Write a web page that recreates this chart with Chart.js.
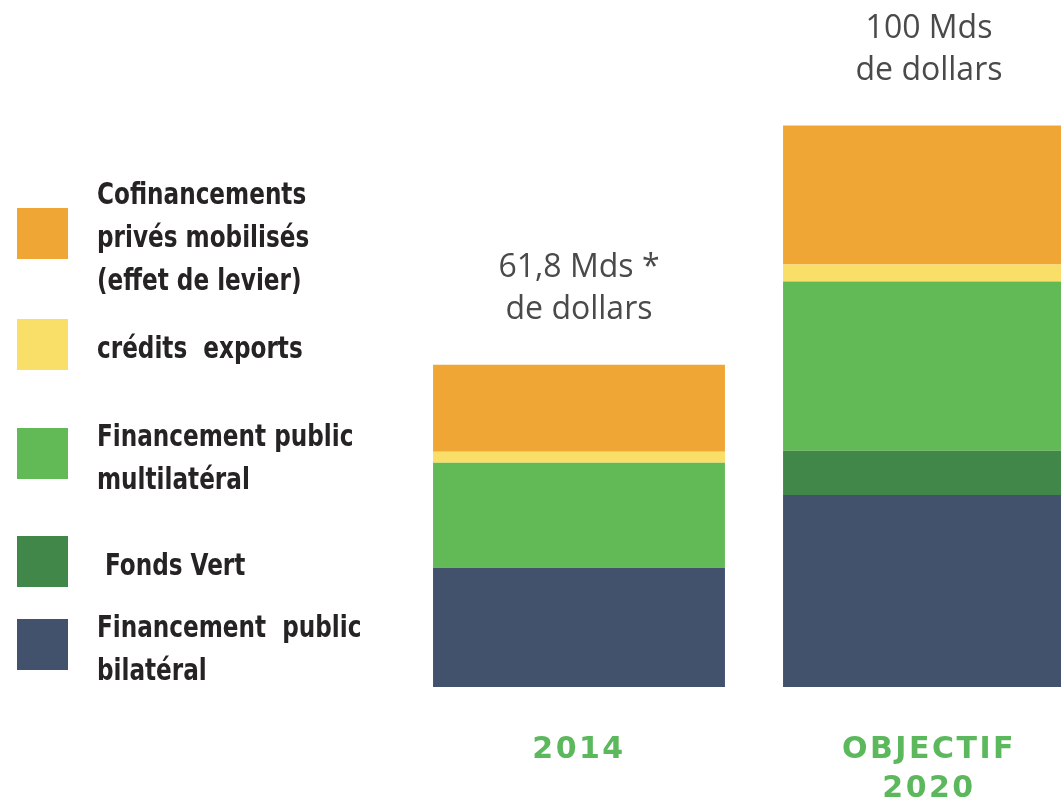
<!DOCTYPE html>
<html>
<head>
<meta charset="utf-8">
<script src="https://cdn.jsdelivr.net/npm/chart.js@4"></script>
<style>
  html, body { margin: 0; padding: 0; background: #fff; overflow: hidden; }
  canvas { display: block; }
</style>
</head>
<body>
<canvas id="financeChart" width="1110" height="808"></canvas>
<script>
// ---------------- data ----------------
const categories = ['2014', ['OBJECTIF', '2020']];

// stacked from bottom to top (Mds de dollars)
const bilateral = [22.9, 36.9];
const fondsVert = [0, 8.5];
const multilateral = [20.2, 32.5];
const creditsExports = [2.1, 3.3];
const cofinancements = [16.7, 26.7];

const seriesLabels = [
  ['Financement  public', 'bilatéral'],
  [' Fonds Vert'],
  ['Financement public', 'multilatéral'],
  ['crédits  exports'],
  ['Cofinancements', 'privés mobilisés', '(effet de levier)']
];
const seriesColors = ['#42516c', '#42874a', '#62ba57', '#f9df68', '#f0a635'];

const totalLabels = [['61,8 Mds *', 'de dollars'], ['100 Mds', 'de dollars']];

// ---------------- plugins ----------------
// ticks are drawn after the datasets (z: 1), letter spacing only for them
const tickSpacing = {
  id: 'tickSpacing',
  afterDatasetsDraw(chart) { chart.ctx.letterSpacing = '2.5px'; },
  afterDraw(chart) { chart.ctx.letterSpacing = '0px'; }
};

const totalsAndLegend = {
  id: 'totalsAndLegend',
  afterDraw(chart) {
    const ctx = chart.ctx;
    const x = chart.scales.x;
    const y = chart.scales.y;
    ctx.save();
    ctx.letterSpacing = '0px';

    // totals above each bar
    ctx.font = '32px "Open Sans", Lato, sans-serif';
    ctx.fillStyle = '#4a4a4a';
    ctx.textAlign = 'center';
    ctx.textBaseline = 'middle';
    totalLabels.forEach((lines, i) => {
      let total = 0;
      chart.data.datasets.forEach(ds => { total += ds.data[i]; });
      const top = y.getPixelForValue(total);
      const cx = x.getPixelForValue(i);
      ctx.fillText(lines[0], cx, top - 97);
      ctx.fillText(lines[1], cx, top - 55);
    });

    // legend on the left, top row is the last dataset
    const rowCenters = [233, 344, 453, 561, 644];
    const lineH = 43;
    const squeeze = 0.83; // condensed look
    ctx.textAlign = 'left';
    ctx.textBaseline = 'alphabetic';
    ctx.font = 'bold 31px "DejaVu Sans Condensed", "DejaVu Sans", sans-serif';
    const n = chart.data.datasets.length;
    for (let r = 0; r < n; r++) {
      const ds = chart.data.datasets[n - 1 - r];
      const c = rowCenters[r];
      ctx.fillStyle = ds.backgroundColor;
      ctx.fillRect(17, c - 25, 51, 51);
      ctx.fillStyle = '#262324';
      const lines = ds.legendLines;
      const first = c + 14 - (lines.length - 1) * lineH / 2;
      lines.forEach((t, k) => {
        ctx.save();
        ctx.translate(97, first + k * lineH);
        ctx.scale(squeeze, 1);
        ctx.fillText(t, 0, 0);
        ctx.restore();
      });
    }
    ctx.restore();
  }
};

// ---------------- chart ----------------
const seriesValues = [bilateral, fondsVert, multilateral, creditsExports, cofinancements];

const datasets = seriesValues.map((values, i) => ({
  label: seriesLabels[i].join(' ').trim(),
  legendLines: seriesLabels[i],
  data: values,
  backgroundColor: seriesColors[i],
  borderWidth: 0,
  barPercentage: 1,
  categoryPercentage: 0.834
}));

new Chart(document.getElementById('financeChart').getContext('2d'), {
  type: 'bar',
  data: { labels: categories, datasets: datasets },
  options: {
    responsive: false,
    animation: false,
    layout: { padding: { left: 404, right: 6, top: 0, bottom: 0 } },
    plugins: {
      legend: { display: false },
      tooltip: { enabled: false },
      title: { display: false }
    },
    scales: {
      x: {
        stacked: true,
        grid: { display: false, drawTicks: false },
        border: { display: false },
        ticks: {
          z: 1,
          color: '#5cb85c',
          padding: 44,
          font: { family: '"DejaVu Sans", sans-serif', weight: 'bold', size: 30, lineHeight: 1.3 },
          maxRotation: 0,
          autoSkip: false
        },
        afterFit(scale) { scale.height = 121; }
      },
      y: {
        stacked: true,
        display: false,
        min: 0,
        max: 132
      }
    }
  },
  plugins: [tickSpacing, totalsAndLegend]
});
</script>
</body>
</html>
